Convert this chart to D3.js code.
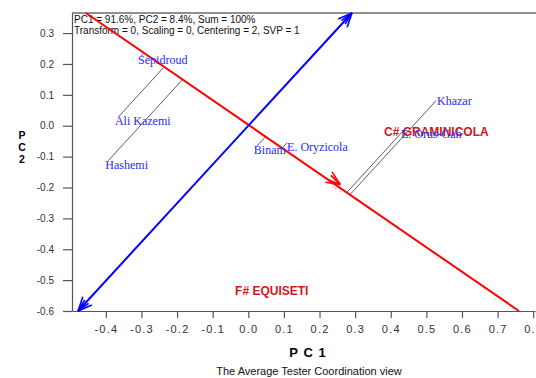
<!DOCTYPE html>
<html>
<head>
<meta charset="utf-8">
<script src="https://cdn.jsdelivr.net/npm/d3@7"></script>
<style>
  body { margin: 0; background: #fff; }
  svg { display: block; }
</style>
</head>
<body>
<svg width="536" height="378"></svg>
<script>
// values
var xTicks = [-0.4, -0.3, -0.2, -0.1, 0.0, 0.1, 0.2, 0.3, 0.4, 0.5, 0.6, 0.7, 0.8];
var yTicks = [0.3, 0.2, 0.1, 0.0, -0.1, -0.2, -0.3, -0.4, -0.5, -0.6];

var genotypes = ["Sepidroud", "Ali Kazemi", "Hashemi", "Binam", "E. Oryzicola", "Khazar", "E. Orus-Gah"];
var genoPC1 = [-0.301, -0.366, -0.393, 0.024, 0.109, 0.527, 0.437];
var genoPC2 = [0.226, 0.027, -0.113, -0.066, -0.055, 0.081, -0.014];

var environments = ["C# GRAMINICOLA", "F# EQUISETI"];
var envPC1 = [0.381, -0.037];
var envPC2 = [-0.033, -0.548];

// ATC abscissa (red) and ordinate (blue) end points
var abscissa = [[-0.456, 0.365], [0.760, -0.600]];
var ordinate = [[-0.478, -0.600], [0.291, 0.365]];
var avgEnv = [0.258, -0.190];

var infoLines = ["PC1 = 91.6%, PC2 = 8.4%, Sum = 100%", "Transform = 0, Scaling = 0, Centering = 2, SVP = 1"];

// label placement tweaks (pixels) where the software moved a label off its point
var labelNudge = {"Khazar": [4, -4], "E. Oryzicola": [3, 0]};

var svg = d3.select('svg');
var x = d3.scaleLinear().domain([-0.495, 0.805]).range([72, 535]);
var y = d3.scaleLinear().domain([-0.6, 0.365]).range([311, 13]);
var sans = "'Liberation Sans', Arial, sans-serif";
var serif = "'Liberation Serif', 'Times New Roman', serif";

// frame top
svg.append('line')
	.attr('x1', x.range()[0]).attr('x2', 536)
	.attr('y1', y.range()[1]).attr('y2', y.range()[1])
	.attr('stroke', '#222').attr('stroke-width', 1);

var fmt = function(d) {return d.toFixed(1)};

var gx = svg.append('g').attr('transform', 'translate(0,311)')
	.call(d3.axisBottom(x).tickValues(xTicks).tickSize(7).tickSizeOuter(0).tickPadding(7).tickFormat(fmt));
gx.selectAll('text').attr('font-family', sans).attr('font-size', 11).attr('letter-spacing', 1.2).attr('fill', '#333');

var gy = svg.append('g').attr('transform', 'translate(72,0)')
	.call(d3.axisLeft(y).tickValues(yTicks).tickSize(9).tickSizeOuter(0).tickPadding(9).tickFormat(fmt));
gy.selectAll('text').attr('font-family', sans).attr('font-size', 10).attr('fill', '#333');

svg.selectAll('.domain, .tick line').attr('stroke', '#555').attr('stroke-width', 1.2);

// info text
svg.selectAll('text.info').data(infoLines).enter().append('text')
	.attr('class', 'info')
	.attr('x', 74).attr('y', function(d, i) {return 23 + i * 11})
	.attr('font-family', sans).attr('font-size', 10).attr('fill', '#111')
	.text(function(d) {return d});

// projection of genotypes onto the red axis
var ux = abscissa[1][0] - abscissa[0][0], uy = abscissa[1][1] - abscissa[0][1];
var ul = Math.sqrt(ux * ux + uy * uy);
ux /= ul; uy /= ul;
var geno = genotypes.map(function(name, i) {
	var dot = genoPC1[i] * ux + genoPC2[i] * uy;
	return {name: name, px: genoPC1[i], py: genoPC2[i], fx: dot * ux, fy: dot * uy};
});

svg.selectAll('line.proj').data(geno).enter().append('line')
	.attr('class', 'proj')
	.attr('x1', function(d) {return x(d.px)}).attr('y1', function(d) {return y(d.py)})
	.attr('x2', function(d) {return x(d.fx)}).attr('y2', function(d) {return y(d.fy)})
	.attr('stroke', '#333').attr('stroke-width', 0.8);

// helper: open arrow head at tip, pointing away from 'from'
function arrowHead(tip, from, color) {
	var a = Math.atan2(tip[1] - from[1], tip[0] - from[0]);
	var barbs = [[0.42, 15], [-0.42, 15], [0.2, 13], [-0.2, 13]];
	barbs.forEach(function(b) {
		svg.append('line')
			.attr('x1', tip[0]).attr('y1', tip[1])
			.attr('x2', tip[0] - b[1] * Math.cos(a + b[0]))
			.attr('y2', tip[1] - b[1] * Math.sin(a + b[0]))
			.attr('stroke', color).attr('stroke-width', 1.6);
	});
}

// axes lines
svg.append('line')
	.attr('x1', x(abscissa[0][0])).attr('y1', y(abscissa[0][1]))
	.attr('x2', x(abscissa[1][0])).attr('y2', y(abscissa[1][1]))
	.attr('stroke', '#ff0000').attr('stroke-width', 2);
svg.append('line')
	.attr('x1', x(ordinate[0][0])).attr('y1', y(ordinate[0][1]))
	.attr('x2', x(ordinate[1][0])).attr('y2', y(ordinate[1][1]))
	.attr('stroke', '#0000ff').attr('stroke-width', 2);

var o0 = [x(ordinate[0][0]), y(ordinate[0][1])], o1 = [x(ordinate[1][0]), y(ordinate[1][1])];
arrowHead(o1, o0, '#0000ff');
arrowHead(o0, o1, '#0000ff');

var avgPx = [x(avgEnv[0]), y(avgEnv[1])];
arrowHead(avgPx, [x(0), y(0)], '#ff0000');
svg.append('circle')
	.attr('cx', avgPx[0] - 4).attr('cy', avgPx[1])
	.attr('r', 4).attr('fill', 'none')
	.attr('stroke', '#ff3030').attr('stroke-width', 0.8).attr('stroke-dasharray', '1.5,1.5');

// environment labels
svg.selectAll('text.env').data(environments).enter().append('text')
	.attr('class', 'env')
	.attr('x', function(d, i) {return x(envPC1[i])})
	.attr('y', function(d, i) {return y(envPC2[i])})
	.attr('font-family', sans).attr('font-size', 12).attr('font-weight', 'bold')
	.attr('fill', '#d01818')
	.text(function(d) {return d});

// genotype labels
function nudge(d, k) {return labelNudge[d.name] ? labelNudge[d.name][k] : 0}
svg.selectAll('text.geno').data(geno).enter().append('text')
	.attr('class', 'geno')
	.attr('x', function(d) {return x(d.px) - 3 + nudge(d, 0)})
	.attr('y', function(d) {return y(d.py) + 8 + nudge(d, 1)})
	.attr('font-family', serif).attr('font-size', 12)
	.attr('fill', '#2828ff')
	.text(function(d) {return d.name});

// axis titles
svg.append('text')
	.attr('x', 308).attr('y', 357).attr('text-anchor', 'middle')
	.attr('font-family', sans).attr('font-size', 13).attr('font-weight', 'bold')
	.attr('letter-spacing', 1)
	.text('P C 1');
svg.append('text')
	.attr('x', 22).attr('y', 129)
	.attr('font-family', sans).attr('font-size', 10.5).attr('font-weight', 'bold')
	.style('writing-mode', 'vertical-rl').style('text-orientation', 'upright')
	.text('PC2');

svg.append('text')
	.attr('x', 309).attr('y', 375).attr('text-anchor', 'middle')
	.attr('font-family', sans).attr('font-size', 11).attr('fill', '#111')
	.text('The Average Tester Coordination view');
</script>
</body>
</html>
